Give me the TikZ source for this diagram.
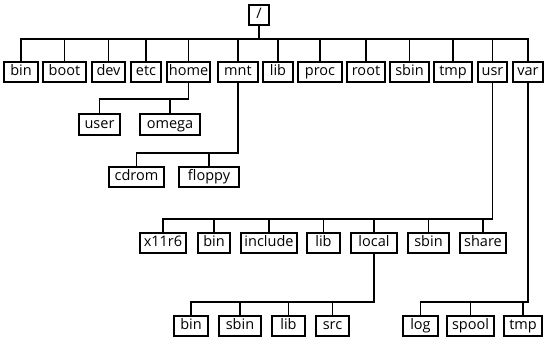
\documentclass[tikz,border=0pt]{standalone}
\usepackage{fontspec}
\setmainfont{Open Sans}
\tikzset{
  dir/.style={draw=black,line width=1.6pt,minimum height=20.5pt,
              inner xsep=1pt,inner ysep=0pt,text height=10pt,text depth=3pt,
              font=\fontsize{14.5}{16}\selectfont},
  wd/.style={minimum width=#1pt-1.6pt},
  link/.style={line width=1.6pt,black},
}

\begin{document}
\begin{tikzpicture}[x=1pt,y=-1pt]
  \useasboundingbox (0,0) rectangle (547,348);
  \node[dir,wd=22] (slash) at (259,15) {/};

  % first level
  \node[dir,wd=36] (bin)  at ( 21,72) {bin};
  \node[dir,wd=45] (boot) at ( 64.5,72) {boot};
  \node[dir,wd=35] (dev)  at (108.5,72) {dev};
  \node[dir,wd=32] (etc)  at (146,72) {etc};
  \node[dir,wd=45] (home) at (188.5,72) {home};
  \node[dir,wd=42] (mnt)  at (238,72) {mnt};
  \node[dir,wd=32] (lib)  at (278,72) {lib};
  \node[dir,wd=46] (proc) at (320,72) {proc};
  \node[dir,wd=40] (root) at (366,72) {root};
  \node[dir,wd=41] (sbin) at (409.5,72) {sbin};
  \node[dir,wd=40] (tmp)  at (453,72) {tmp};
  \node[dir,wd=31] (usr)  at (492.5,72) {usr};
  \node[dir,wd=32] (var)  at (528,72) {var};

  % home, mnt
  \node[dir,wd=43] (user)   at ( 99.5,124.5) {user};
  \node[dir,wd=62] (omega)  at (170,124.5) {omega};
  \node[dir,wd=57] (cdrom)  at (136.5,177) {cdrom};
  \node[dir,wd=62] (floppy) at (209,177) {floppy};

  % usr
  \node[dir,wd=48] (x11)   at (163,243) {x11r6};
  \node[dir,wd=34] (ubin)  at (214,243) {bin};
  \node[dir,wd=58] (uinc)  at (269,243) {include};
  \node[dir,wd=35] (ulib)  at (323.5,243) {lib};
  \node[dir,wd=48] (local) at (374,243) {local};
  \node[dir,wd=43] (usbin) at (428.5,243) {sbin};
  \node[dir,wd=48] (share) at (483,243) {share};

  % local, var
  \node[dir,wd=36] (lbin)  at (191,326) {bin};
  \node[dir,wd=44] (lsbin) at (240,326) {sbin};
  \node[dir,wd=35] (llib)  at (288.5,326) {lib};
  \node[dir,wd=35] (src)   at (332.5,326) {src};
  \node[dir,wd=37] (log)   at (420.5,326) {log};
  \node[dir,wd=49] (spool) at (470.5,326) {spool};
  \node[dir,wd=40] (vtmp)  at (523,326) {tmp};

  \foreach \c in {bin,boot,dev,etc,home,mnt,lib,proc,root,sbin,tmp,usr,var}
    \draw[link] (slash.south) -- (slash.south |- 0,39) -| (\c.north);
  \foreach \c in {user,omega}
    \draw[link] (home.south) -- (home.south |- 0,99) -| (\c.north);
  \foreach \c in {cdrom,floppy}
    \draw[link] (mnt.south) -- (mnt.south |- 0,153) -| (\c.north);
  \foreach \c in {x11,ubin,uinc,ulib,local,usbin,share}
    \draw[link] (usr.south) -- (usr.south |- 0,219) -| (\c.north);
  \foreach \c in {lbin,lsbin,llib,src}
    \draw[link] (local.south) -- (local.south |- 0,302) -| (\c.north);
  \foreach \c in {log,spool,vtmp}
    \draw[link] (var.south) -- (var.south |- 0,302) -| (\c.north);
\end{tikzpicture}
\end{document}
